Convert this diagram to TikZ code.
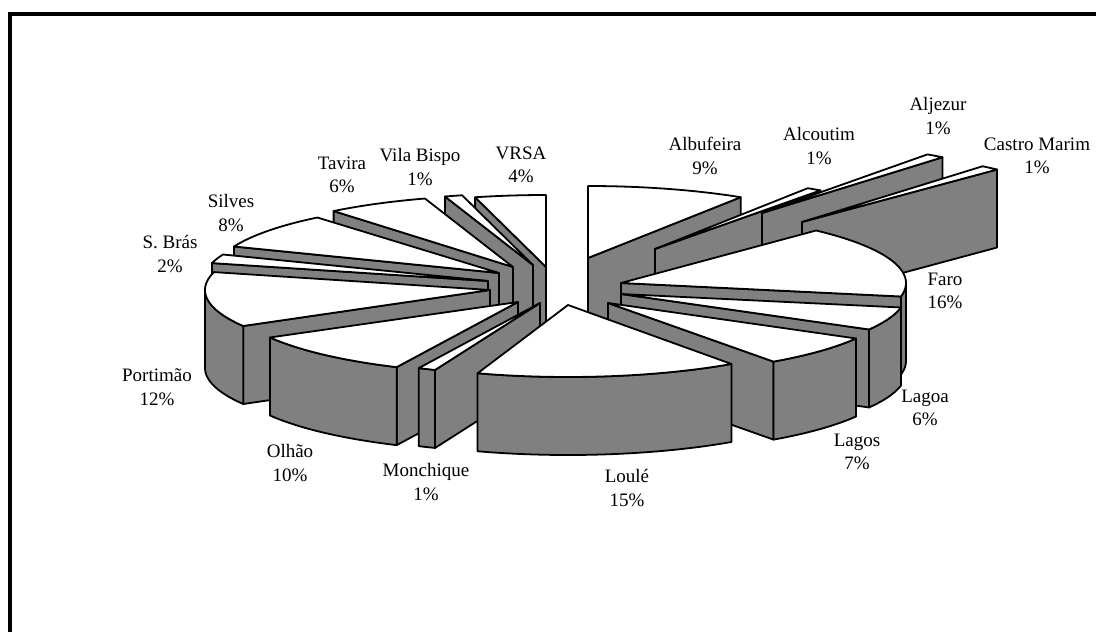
\documentclass[tikz,border=0pt]{standalone}
\usepackage{fontspec}
\setmainfont{Liberation Serif}
\usepackage{tikz}

\newcommand{\pierx}{285}
\newcommand{\piery}{72}
\newcommand{\pieh}{78}

% apex x, apex y, start angle, end angle (clockwise from the back)
\newcommand{\topface}[4]{%
  \filldraw[sliceTop] (#1,#2) -- plot[domain=#3:#4, samples=40] ({#1+\pierx*sin(\x)},{#2-\piery*cos(\x)}) -- cycle;}
\newcommand{\cutface}[3]{%
  \filldraw[sliceSide] (#1,#2) -- ({#1+\pierx*sin(#3)},{#2-\piery*cos(#3)}) -- ++(0,\pieh) -- (#1,{#2+\pieh}) -- cycle;}
\newcommand{\rimface}[4]{%
  \filldraw[sliceSide] plot[domain=#3:#4, samples=30] ({#1+\pierx*sin(\x)},{#2-\piery*cos(\x)})
    -- plot[domain=#4:#3, samples=30] ({#1+\pierx*sin(\x)},{#2+\pieh-\piery*cos(\x)}) -- cycle;}

\tikzset{
  sliceTop/.style={fill=white, draw=black, line width=1.8pt, line join=round},
  sliceSide/.style={fill=gray, draw=black, line width=1.8pt, line join=round},
  pielabel/.style={align=center, inner sep=0pt, font=\fontsize{19}{23.5}\selectfont}
}

\begin{document}
\begin{tikzpicture}[x=1pt, y=-1pt]
    \useasboundingbox (0,0) rectangle (1096,632);
    \draw[line width=4pt] (1096,13.5) -- (10,13.5) -- (10,632);

    % right half, back to front
    \cutface{588}{258}{32.4}\topface{588}{258}{0}{32.4}
    \cutface{655}{249}{35.5}\topface{655}{249}{32.4}{35.5}
    \cutface{762}{213}{39.3}\topface{762}{213}{35.5}{39.3}
    \cutface{802}{222}{43.2}\topface{802}{222}{39.3}{43.2}
    \cutface{621}{283}{100.8}\rimface{621}{283}{90}{100.8}\topface{621}{283}{43.2}{100.8}
    \cutface{621}{294}{119.5}\rimface{621}{294}{100.8}{119.5}\topface{621}{294}{100.8}{119.5}
    \cutface{608}{303}{144.5}\rimface{608}{303}{119.5}{144.5}\topface{608}{303}{119.5}{144.5}

    % left half, back to front
    \cutface{546}{267}{345.6}\topface{546}{267}{345.6}{360}
    \cutface{533}{265}{342}\topface{533}{265}{342}{345.6}
    \cutface{513}{267}{321}\topface{513}{267}{321}{342}
    \cutface{499}{273}{291.6}\topface{499}{273}{291.6}{320.4}
    \cutface{488}{281}{284.4}\topface{488}{281}{284.4}{291.6}
    \cutface{490}{290}{240}\rimface{490}{290}{240}{270}\topface{490}{290}{240}{284.4}
    \cutface{518}{302}{205.2}\rimface{518}{302}{205.2}{240.5}\topface{518}{302}{205.2}{240.5}
    \cutface{540}{303}{201.6}\rimface{540}{303}{201.6}{205.2}\topface{540}{303}{201.6}{205.2}

    % front slice
    \rimface{568}{305}{145}{198.5}\topface{568}{305}{145}{198.5}

    \node[pielabel] at (705,156) (albufeira) {Albufeira\\9\%};
    \node[pielabel] at (819,146) (alcoutim) {Alcoutim\\1\%};
    \node[pielabel] at (938,116) (aljezur) {Aljezur\\1\%};
    \node[pielabel] at (1037,156) (castro) {Castro Marim\\1\%};
    \node[pielabel] at (945,291) (faro) {Faro\\16\%};
    \node[pielabel] at (925,408) (lagoa) {Lagoa\\6\%};
    \node[pielabel] at (857,452) (lagos) {Lagos\\7\%};
    \node[pielabel] at (627,488) (loule) {Loulé\\15\%};
    \node[pielabel] at (426,482) (monchique) {Monchique\\1\%};
    \node[pielabel] at (290,463) (olhao) {Olhão\\10\%};
    \node[pielabel] at (157,387) (portimao) {Portimão\\12\%};
    \node[pielabel] at (170,254) (sbras) {S. Brás\\2\%};
    \node[pielabel] at (231,213) (silves) {Silves\\8\%};
    \node[pielabel] at (342,175) (tavira) {Tavira\\6\%};
    \node[pielabel] at (420,167) (vilabispo) {Vila Bispo\\1\%};
    \node[pielabel] at (521,165) (vrsa) {VRSA\\4\%};
\end{tikzpicture}
\end{document}
